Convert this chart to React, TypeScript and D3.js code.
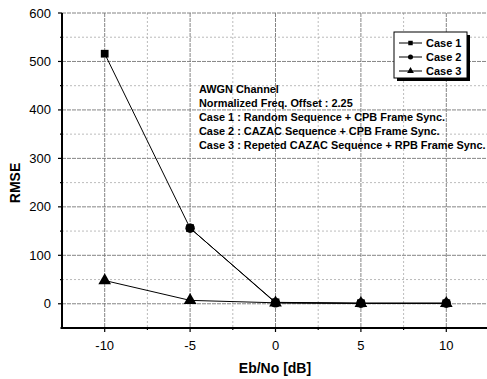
import React, { useEffect, useRef } from 'react';
import * as d3 from 'd3';

// Eb/No values (dB)
const ebNo = [-10, -5, 0, 5, 10];
const case1 = [516, 156, 3, 1, 1];
const case2 = [null, 156, 2, 1, 1];
const case3 = [48, 7, 2, 1, 1];

const yMajorTicks = [0, 100, 200, 300, 400, 500, 600];
const yMinorTicks = [-50, 50, 150, 250, 350, 450, 550];
const xMajorTicks = [-10, -5, 0, 5, 10];
const xMinorTicks = [-7.5, -2.5, 2.5, 7.5];

const legendNames = ['Case 1', 'Case 2', 'Case 3'];
const noteLines = [
  'AWGN Channel',
  'Normalized Freq. Offset : 2.25',
  'Case 1 : Random Sequence + CPB Frame Sync.',
  'Case 2 : CAZAC Sequence + CPB Frame Sync.',
  'Case 3 : Repeted CAZAC Sequence + RPB Frame Sync.',
];

const App = () => {
  const svgRef = useRef<SVGSVGElement>(null);

  useEffect(() => {
    const svg = d3.select(svgRef.current);
    svg.selectAll('*').remove();

    const font = 'Liberation Sans, Arial, sans-serif';
    const left = 62, right = 489, top = 13, bottom = 328;

    const x = d3.scaleLinear().domain([-12.5, 12.5]).range([left, right]);
    const y = d3.scaleLinear().domain([-50, 600]).range([bottom, top]);

    // grid
    const grid = svg.append('g');
    grid.selectAll('.hmin').data(yMinorTicks.filter(d => d > -50)).enter().append('line')
      .attr('x1', left).attr('x2', right).attr('y1', d => y(d)).attr('y2', d => y(d))
      .attr('stroke', '#aaa').attr('stroke-width', 0.8).attr('stroke-dasharray', '2,2');
    grid.selectAll('.vmin').data(xMinorTicks).enter().append('line')
      .attr('y1', top).attr('y2', bottom).attr('x1', d => x(d)).attr('x2', d => x(d))
      .attr('stroke', '#aaa').attr('stroke-width', 0.8).attr('stroke-dasharray', '2,2');
    grid.selectAll('.hmaj').data(yMajorTicks).enter().append('line')
      .attr('x1', left).attr('x2', right).attr('y1', d => y(d)).attr('y2', d => y(d))
      .attr('stroke', '#777').attr('stroke-width', 0.9).attr('stroke-dasharray', '4,1');
    grid.selectAll('.vmaj').data(xMajorTicks).enter().append('line')
      .attr('y1', top).attr('y2', bottom).attr('x1', d => x(d)).attr('x2', d => x(d))
      .attr('stroke', '#777').attr('stroke-width', 0.9).attr('stroke-dasharray', '4,1');

    // axes
    svg.append('line').attr('x1', left).attr('x2', left).attr('y1', top).attr('y2', bottom + 1)
      .attr('stroke', '#000').attr('stroke-width', 2);
    svg.append('line').attr('x1', left).attr('x2', right).attr('y1', bottom).attr('y2', bottom)
      .attr('stroke', '#000').attr('stroke-width', 2);

    // ticks
    svg.selectAll('.yt').data(yMajorTicks).enter().append('line')
      .attr('x1', left - 4).attr('x2', left).attr('y1', d => y(d)).attr('y2', d => y(d))
      .attr('stroke', '#000').attr('stroke-width', 1.2);
    svg.selectAll('.ytm').data(yMinorTicks).enter().append('line')
      .attr('x1', left - 2).attr('x2', left).attr('y1', d => y(d)).attr('y2', d => y(d))
      .attr('stroke', '#000').attr('stroke-width', 1.2);
    svg.selectAll('.xt').data(xMajorTicks).enter().append('line')
      .attr('y1', bottom).attr('y2', bottom + 4).attr('x1', d => x(d)).attr('x2', d => x(d))
      .attr('stroke', '#000').attr('stroke-width', 1.2);
    svg.selectAll('.xtm').data(xMinorTicks).enter().append('line')
      .attr('y1', bottom).attr('y2', bottom + 2).attr('x1', d => x(d)).attr('x2', d => x(d))
      .attr('stroke', '#000').attr('stroke-width', 1.2);

    // tick labels
    svg.selectAll('.yl').data(yMajorTicks).enter().append('text')
      .attr('x', left - 11).attr('y', d => y(d)).attr('dy', '0.35em')
      .attr('text-anchor', 'end').attr('font-family', font).attr('font-size', 13)
      .text(d => d);
    svg.selectAll('.xl').data(xMajorTicks).enter().append('text')
      .attr('x', d => x(d)).attr('y', 345).attr('dy', '0.35em')
      .attr('text-anchor', 'middle').attr('font-family', font).attr('font-size', 13)
      .text(d => d);

    // axis titles
    svg.append('text').attr('x', 275).attr('y', 373).attr('text-anchor', 'middle')
      .attr('font-family', font).attr('font-size', 14).attr('font-weight', 'bold')
      .text('Eb/No [dB]');
    svg.append('text').attr('transform', 'translate(20,183) rotate(-90)').attr('text-anchor', 'middle')
      .attr('font-family', font).attr('font-size', 14).attr('font-weight', 'bold')
      .text('RMSE');

    // series (case 2 drawn last so its circles sit on top)
    const series = [case3, case1, case2];
    const symbols = [d3.symbolTriangle, d3.symbolSquare, d3.symbolCircle];
    const sizes = [70, 60, 70];
    const line = d3.line<number | null>()
      .defined(d => d !== null)
      .x((d, i) => x(ebNo[i]))
      .y(d => y(d as number));

    series.forEach((s, k) => {
      svg.append('path').datum(s).attr('fill', 'none').attr('stroke', '#000')
        .attr('stroke-width', 1).attr('d', line);
      svg.selectAll('.m' + k).data(s.map((v, i) => ({ v, i })).filter(d => d.v !== null))
        .enter().append('path')
        .attr('transform', d => `translate(${x(ebNo[d.i])},${y(d.v as number)})`)
        .attr('d', d3.symbol().type(symbols[k]).size(sizes[k]))
        .attr('fill', '#000');
    });

    // annotation
    svg.append('g').selectAll('text').data(noteLines).enter().append('text')
      .attr('x', 199).attr('y', (d, i) => 93 + i * 14)
      .attr('font-family', font).attr('font-size', 10.9).attr('font-weight', 'bold')
      .text(d => d);

    // legend
    const lg = svg.append('g').attr('transform', 'translate(394,32)');
    lg.append('rect').attr('x', 3).attr('y', 3).attr('width', 73).attr('height', 46).attr('fill', '#000');
    lg.append('rect').attr('x', 0).attr('y', 0).attr('width', 73).attr('height', 46)
      .attr('fill', '#fff').attr('stroke', '#000').attr('stroke-width', 1);
    const legSymbols = [d3.symbolSquare, d3.symbolCircle, d3.symbolTriangle];
    legendNames.forEach((name, i) => {
      const cy = 11 + i * 14;
      lg.append('line').attr('x1', 5).attr('x2', 28).attr('y1', cy).attr('y2', cy)
        .attr('stroke', '#000').attr('stroke-width', 1);
      lg.append('path').attr('transform', `translate(16.5,${cy})`)
        .attr('d', d3.symbol().type(legSymbols[i]).size(20)).attr('fill', '#000');
      lg.append('text').attr('x', 32).attr('y', cy).attr('dy', '0.35em')
        .attr('font-family', font).attr('font-size', 11).attr('font-weight', 'bold')
        .text(name);
    });
  }, []);

  return (
    <svg ref={svgRef} width={487} height={379}
      style={{ position: 'absolute', left: 0, top: 0, background: '#fff' }} />
  );
};

export default App;
